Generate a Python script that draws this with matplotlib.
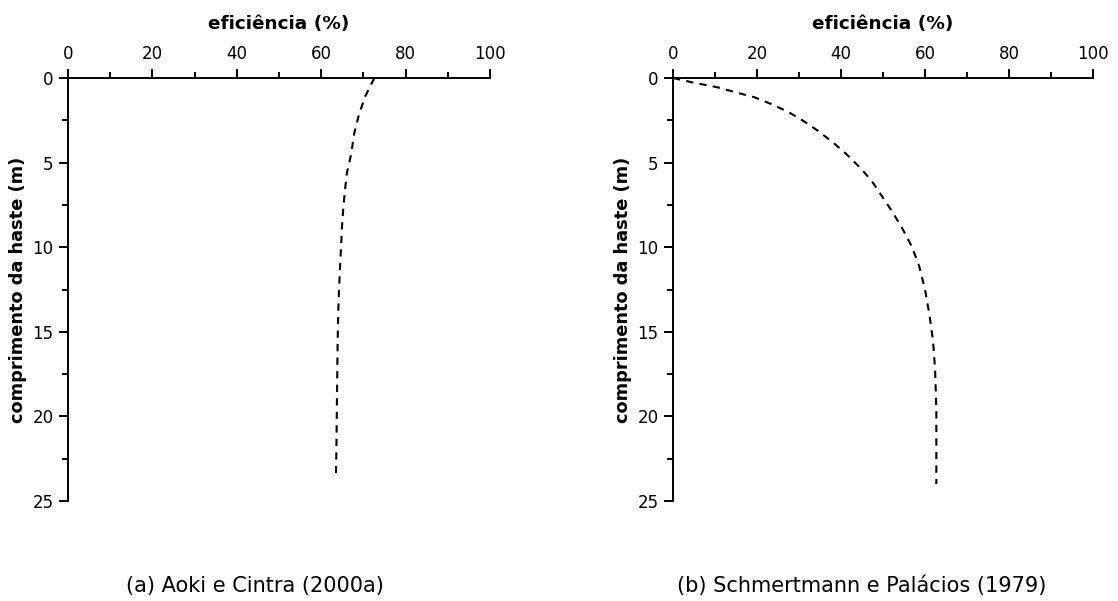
import numpy as np
from matplotlib import pyplot as plt
from matplotlib.ticker import MultipleLocator

# (a) Aoki e Cintra (2000a)
depth_a = [0, 1.1, 2.2, 3.3, 4.5, 5.6, 6.7, 7.8, 8.9, 10.0, 11.0, 12.1, 13.3, 15.5, 17.6, 19.8, 21.9, 23.5]
eff_a = [72.6, 70.4, 68.9, 67.8, 67.1, 66.1, 65.6, 65.2, 64.9, 64.7, 64.5, 64.3, 64.1, 63.9, 63.8, 63.7, 63.6, 63.5]

# (b) Schmertmann e Palacios (1979)
depth_b = [0, 0.26, 0.55, 0.85, 1.14, 1.54, 2.0, 2.53, 3.12, 3.81, 4.5, 5.29, 6.08, 6.97,
           7.86, 8.94, 9.93, 11.1, 12.5, 13.9, 15.5, 17.2, 19.6, 24.0]
eff_b = [0, 4.6, 10.6, 15.0, 19.4, 23.4, 27.4, 31.0, 34.5, 38.1, 41.3, 44.5, 47.3, 49.7,
         52.1, 54.7, 56.8, 58.6, 60.0, 61.0, 61.9, 62.4, 62.7, 62.7]

captions = ["(a) Aoki e Cintra (2000a)", "(b) Schmertmann e Palácios (1979)"]
xlabel = "eficiência (%)"
ylabel = "comprimento da haste (m)"

plt.rcParams['font.family'] = ['DejaVu Sans']

fig = plt.figure(figsize=(11.18, 6.01), dpi=100)
W, H = 1118, 601
ax_a = fig.add_axes([68 / W, 1 - 501 / H, 422 / W, 423 / H])
ax_b = fig.add_axes([673 / W, 1 - 501 / H, 420 / W, 423 / H])


def style_axis(ax):
    ax.set_xlim(0, 100)
    ax.set_ylim(25, 0)
    for side in ['right', 'bottom']:
        ax.spines[side].set_visible(False)
    for side in ['left', 'top']:
        ax.spines[side].set_linewidth(1.4)
    ax.xaxis.tick_top()
    ax.xaxis.set_label_position('top')
    ax.xaxis.set_major_locator(MultipleLocator(20))
    ax.xaxis.set_minor_locator(MultipleLocator(10))
    ax.yaxis.set_major_locator(MultipleLocator(5))
    ax.yaxis.set_minor_locator(MultipleLocator(2.5))
    ax.tick_params(which='major', direction='out', length=6.5, width=1.4,
                   labelsize=12, pad=4)
    ax.tick_params(which='minor', direction='out', length=4, width=1.4)
    ax.tick_params(axis='x', which='both', top=True, bottom=False)
    ax.tick_params(axis='y', which='both', right=False)
    ax.set_xlabel(xlabel, fontsize=13.3, fontweight='bold', labelpad=12)
    ax.set_ylabel(ylabel, fontsize=12.8, fontweight='bold', labelpad=4)
    ax.set_facecolor('none')


for ax, d, e in [(ax_a, depth_a, eff_a), (ax_b, depth_b, eff_b)]:
    style_axis(ax)
    ax.plot(e, d, color='black', lw=1.5, linestyle=(0, (3.5, 3.0)), clip_on=False)

fig.text(255 / W, 1 - 586 / H, captions[0], ha='center', va='center', fontsize=15)
fig.text(862 / W, 1 - 586 / H, captions[1], ha='center', va='center', fontsize=15)

fig.savefig('out.png', dpi=100, facecolor='white')
